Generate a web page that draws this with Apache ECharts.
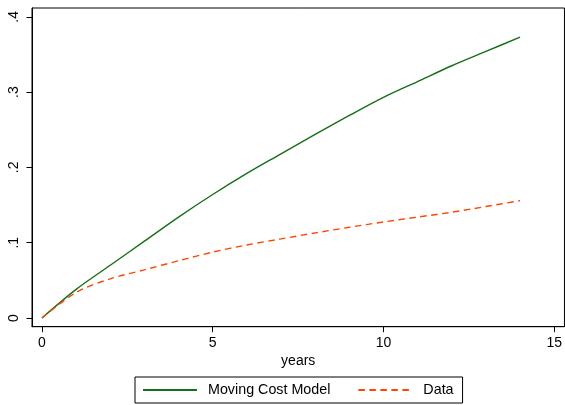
<!DOCTYPE html>
<html>
<head>
<meta charset="utf-8">
<script src="https://cdn.jsdelivr.net/npm/echarts@6/dist/echarts.min.js"></script>
<style>html,body{margin:0;padding:0;background:#fff}#c{width:565px;height:405px}</style>
</head>
<body>
<div id="c"></div>
<script>
const years = [0, 1, 2, 3, 4, 5, 6, 7, 8, 9, 10, 11, 12, 13, 14];
const movingCostModel = [0, 0.038, 0.070, 0.102, 0.134, 0.164, 0.192, 0.218, 0.244, 0.269, 0.293, 0.314, 0.335, 0.354, 0.373];
const dataSeries = [0, 0.034, 0.052, 0.064, 0.076, 0.0875, 0.097, 0.105, 0.113, 0.1205, 0.1275, 0.134, 0.1405, 0.148, 0.1558];
const xTicks = [0, 5, 10, 15];
const yTicks = [0, 0.1, 0.2, 0.3, 0.4];
const yTickLabels = ['0', '.1', '.2', '.3', '.4'];
const seriesNames = ['Moving Cost Model', 'Data'];

const font = 'Liberation Sans, Arial, Helvetica, sans-serif';
const chart = echarts.init(document.getElementById('c'), null, {renderer: 'canvas'});
chart.setOption({
  animation: false,
  backgroundColor: '#fff',
  grid: {left: 32, top: 8, width: 536, height: 318.7, show: true, borderColor: '#000', borderWidth: 1, backgroundColor: '#fff'},
  xAxis: {
    type: 'value', min: -0.291, max: 15.30,
    name: 'years', nameLocation: 'middle', nameGap: 26,
    nameTextStyle: {fontFamily: font, fontSize: 14, color: '#000'},
    axisLine: {show: true, onZero: false, lineStyle: {color: '#000', width: 1}},
    axisTick: {show: true, length: 5.5, customValues: xTicks, lineStyle: {color: '#000'}},
    axisLabel: {customValues: xTicks, margin: 9, fontFamily: font, fontSize: 14, color: '#000'},
    splitLine: {show: false}
  },
  yAxis: {
    type: 'value', min: -0.01156, max: 0.4117,
    axisLine: {show: true, onZero: false, lineStyle: {color: '#000', width: 1}},
    axisTick: {show: true, length: 5.5, customValues: yTicks, lineStyle: {color: '#000'}},
    axisLabel: {customValues: yTicks, rotate: 90, margin: 11, fontFamily: font, fontSize: 14, color: '#000',
      formatter: function (v) { const i = yTicks.findIndex(t => Math.abs(t - v) < 1e-9); return i >= 0 ? yTickLabels[i] : ''; }},
    splitLine: {show: false}
  },
  legend: {
    left: 135, top: 377,
    orient: 'horizontal',
    padding: [6, 9, 6, 7],
    borderColor: '#000', borderWidth: 1,
    itemWidth: 54, itemHeight: 14, itemGap: 27,
    itemStyle: {opacity: 0},
    textStyle: {fontFamily: font, fontSize: 14.3, color: '#000', padding: [0, 0, 0, 6]},
    data: seriesNames
  },
  series: [
    {
      name: seriesNames[0], type: 'line', symbol: 'none', smooth: 0.3,
      lineStyle: {color: '#156f15', width: 1.4},
      itemStyle: {color: '#156f15'},
      data: years.map((x, i) => [x, movingCostModel[i]])
    },
    {
      name: seriesNames[1], type: 'line', symbol: 'none', smooth: 0.3,
      lineStyle: {color: '#ff4500', width: 1.4, type: [6.5, 4.5]},
      itemStyle: {color: '#ff4500'},
      data: years.map((x, i) => [x, dataSeries[i]])
    }
  ]
});
</script>
</body>
</html>
